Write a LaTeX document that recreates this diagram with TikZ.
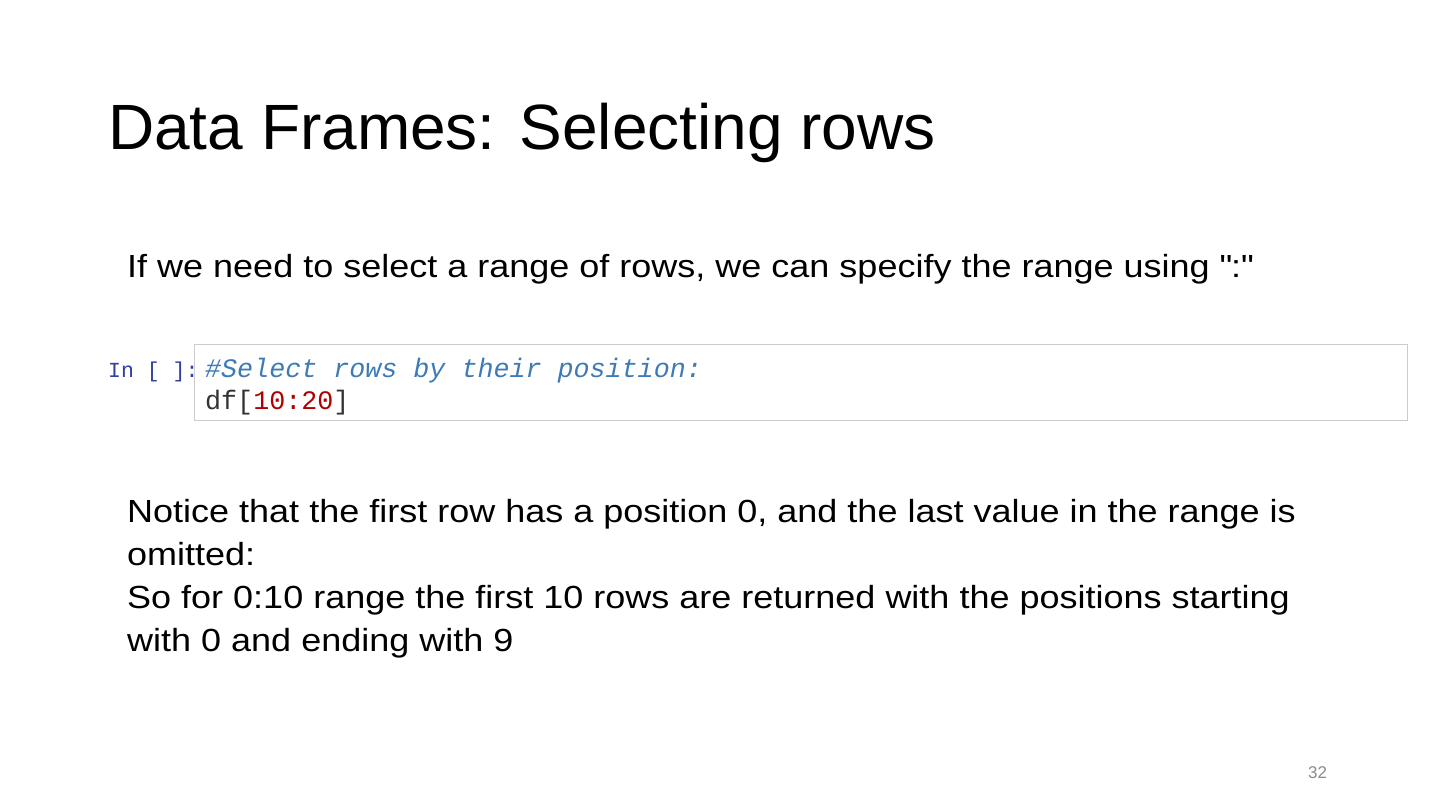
\documentclass[tikz,border=0pt]{standalone}
\usepackage{fontspec}
\setmainfont{Liberation Sans}
\setmonofont{Liberation Mono}
\newfontfamily\bodyfont[FakeStretch=1.125]{Liberation Sans}
\definecolor{cmt}{HTML}{3D7AB8}
\definecolor{num}{HTML}{B00000}
\definecolor{prm}{HTML}{303F9F}
\definecolor{code}{HTML}{333333}
\begin{document}
\begin{tikzpicture}[x=1pt,y=-1pt,
  txt/.style={anchor=base west,inner sep=0pt,font=\bodyfont\fontsize{32}{43}\selectfont},
  cd/.style={anchor=base west,inner sep=0pt,font=\ttfamily\fontsize{26.7}{32}\selectfont}]
\useasboundingbox (0,0) rectangle (1440,810);
\node[anchor=base west,inner sep=0pt,font=\fontsize{64}{70}\selectfont] (title) at (108,150) {Data Frames: Selecting rows};
\node[txt] (p1) at (127,278) {If we need to select a range of rows, we can specify the range using \textquotedbl:\textquotedbl};
\node[draw=black!20,line width=1pt,minimum width=1213pt,minimum height=76pt,anchor=north west,inner sep=0pt] (box) at (194,344) {};
\node[anchor=base west,inner sep=0pt,font=\ttfamily\fontsize{21.5}{26}\selectfont,text=prm] (prompt) at (108,377) {In [ ]:};
\node[cd,text=cmt] (c1) at (205,377) {\itshape\#Select rows by their position:};
\node[cd,text=code] (c2) at (205,409) {df[\textcolor{num}{10:20}]};
\node[txt] (n1) at (127,522) {Notice that the first row has a position 0, and the last value in the range is};
\node[txt] (n2) at (127,565) {omitted:};
\node[txt] (n3) at (127,608) {So for 0:10 range the first 10 rows are returned with the positions starting};
\node[txt] (n4) at (127,651) {with 0 and ending with 9};
\node[anchor=base west,inner sep=0pt,font=\fontsize{17}{20}\selectfont,text=black!45] (pg) at (1308,778) {32};
\end{tikzpicture}
\end{document}
